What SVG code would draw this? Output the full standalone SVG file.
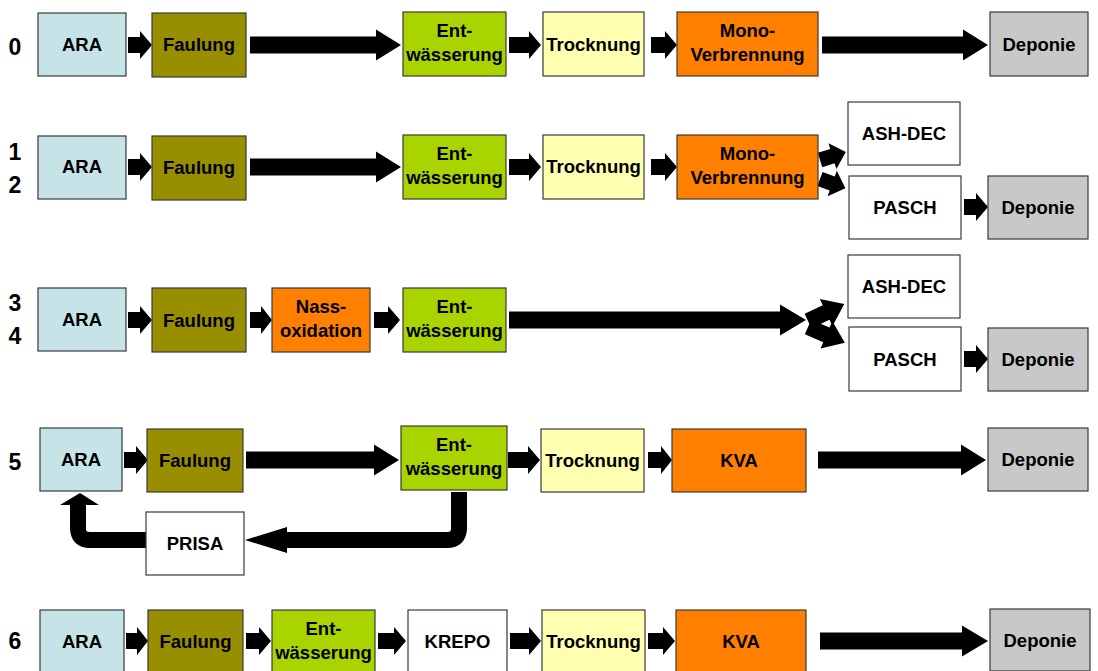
<svg xmlns="http://www.w3.org/2000/svg" width="1098" height="671" viewBox="0 0 1098 671">
<style>
  .box{stroke:#3a3a3a;stroke-width:1.2}
  .ara{fill:#c6e4e8}
  .fau{fill:#978e00}
  .ent{fill:#a9d400}
  .tro{fill:#ffffb0}
  .ora{fill:#ff7f00}
  .dep{fill:#c8c8c8}
  .wht{fill:#ffffff}
  text{font-family:"Liberation Sans",Arial,sans-serif;font-weight:bold;fill:#000}
  .t{font-size:18.5px;text-anchor:middle}
  .lbl{font-size:23px;text-anchor:middle}
  .arr{fill:#000}
  .loop{fill:none;stroke:#000;stroke-width:16;stroke-linejoin:round}
</style>
<rect width="1098" height="671" fill="#ffffff"/>
<!-- Row labels -->
<g id="labels">
  <text class="lbl" x="15" y="55">0</text>
  <text class="lbl" x="15" y="160">1</text>
  <text class="lbl" x="15" y="193">2</text>
  <text class="lbl" x="15" y="311">3</text>
  <text class="lbl" x="15" y="344">4</text>
  <text class="lbl" x="15" y="470">5</text>
  <text class="lbl" x="15" y="649">6</text>
</g>
<!-- Connectors -->
<g id="connectors" class="arr">
  <!-- row 0, cy=45 -->
  <path d="M128,37 H140 V31 L152,45 L140,59 V53 H128 Z"/>
  <path d="M250,36.5 H376 V29.5 L401,45 L376,60.5 V53.5 H250 Z"/>
  <path d="M509,37 H529 V31 L541,45 L529,59 V53 H509 Z"/>
  <path d="M651,37 H665 V31 L677,45 L665,59 V53 H651 Z"/>
  <path d="M822,36.5 H963 V29.5 L988,45 L963,60.5 V53.5 H822 Z"/>
  <!-- row 1/2, cy=167 -->
  <path d="M128,159 H140 V153 L152,167 L140,181 V175 H128 Z"/>
  <path d="M250,158.5 H376 V151.5 L401,167 L376,182.5 V175.5 H250 Z"/>
  <path d="M509,159 H529 V153 L541,167 L529,181 V175 H509 Z"/>
  <path d="M651,159 H665 V153 L677,167 L665,181 V175 H651 Z"/>
  <path transform="translate(820,160) rotate(-17)" d="M0,-7.5 H13 V-13.5 L27,0 L13,13.5 V7.5 H0 Z"/>
  <path transform="translate(820,179) rotate(20)" d="M0,-7.5 H13 V-13.5 L27,0 L13,13.5 V7.5 H0 Z"/>
  <path d="M964,199 H976 V193 L988,207 L976,221 V215 H964 Z"/>
  <!-- row 3/4, cy=320 -->
  <path d="M128,312 H140 V306 L152,320 L140,334 V328 H128 Z"/>
  <path d="M250,312 H261 V306 L272,320 L261,334 V328 H250 Z"/>
  <path d="M374,312 H388 V306 L400,320 L388,334 V328 H374 Z"/>
  <path d="M509,311.5 H780 V304.5 L806,320 L780,335.5 V328.5 H509 Z"/>
  <path transform="translate(808,321) rotate(-25)" d="M0,-8 H20 V-15 L40,0 L20,15 V8 H0 Z"/>
  <path transform="translate(808,327) rotate(23)" d="M0,-8 H20 V-15 L40,0 L20,15 V8 H0 Z"/>
  <path d="M964,351 H976 V345 L988,359 L976,373 V367 H964 Z"/>
  <!-- row 5, cy=460 -->
  <path d="M124,452 H136 V446 L148,460 L136,474 V468 H124 Z"/>
  <path d="M246,451.5 H374 V444.5 L399,460 L374,475.5 V468.5 H246 Z"/>
  <path d="M508,452 H528 V446 L540,460 L528,474 V468 H508 Z"/>
  <path d="M648,452 H661 V446 L672,460 L661,474 V468 H648 Z"/>
  <path d="M818,451.5 H961 V444.5 L986,460 L961,475.5 V468.5 H818 Z"/>
  <!-- loop Entwässerung -> PRISA -> ARA -->
  <path class="loop" d="M459,492 V528 Q459,540 447,540 H286"/>
  <path d="M287,527 L245,540 L287,553 Z"/>
  <path class="loop" d="M146,540 H90 Q78,540 78,528 V504"/>
  <path d="M60,505 L80,493 L99,505 Z"/>
  <!-- row 6, cy=641 -->
  <path d="M126,633 H137 V627 L148,641 L137,655 V649 H126 Z"/>
  <path d="M246,633 H259 V627 L271,641 L259,655 V649 H246 Z"/>
  <path d="M378,633 H394 V627 L406,641 L394,655 V649 H378 Z"/>
  <path d="M510,633 H529 V627 L541,641 L529,655 V649 H510 Z"/>
  <path d="M648,633 H663 V627 L675,641 L663,655 V649 H648 Z"/>
  <path d="M820,632.5 H962 V625.5 L988,641 L962,656.5 V649.5 H820 Z"/>
</g>
<!-- Row 0 -->
<g id="r0-ara"><rect class="box ara" x="38" y="13" width="88" height="63"/><text class="t" x="82" y="51">ARA</text></g>
<g id="r0-faulung"><rect class="box fau" x="152" y="13" width="94" height="64"/><text class="t" x="199" y="51">Faulung</text></g>
<g id="r0-entw"><rect class="box ent" x="403" y="12" width="103" height="64"/><text class="t" x="454.5" y="37">Ent-</text><text class="t" x="454.5" y="61">wässerung</text></g>
<g id="r0-trocknung"><rect class="box tro" x="543" y="12" width="101" height="64"/><text class="t" x="593.5" y="51">Trocknung</text></g>
<g id="r0-mono"><rect class="box ora" x="677" y="12" width="141" height="64"/><text class="t" x="747.5" y="37">Mono-</text><text class="t" x="747.5" y="61">Verbrennung</text></g>
<g id="r0-deponie"><rect class="box dep" x="990" y="12" width="98" height="64"/><text class="t" x="1039" y="51">Deponie</text></g>
<!-- Row 1/2 -->
<g id="r1-ara"><rect class="box ara" x="38" y="136" width="88" height="63"/><text class="t" x="82" y="173">ARA</text></g>
<g id="r1-faulung"><rect class="box fau" x="152" y="136" width="94" height="64"/><text class="t" x="199" y="174">Faulung</text></g>
<g id="r1-entw"><rect class="box ent" x="403" y="135" width="103" height="64"/><text class="t" x="454.5" y="160">Ent-</text><text class="t" x="454.5" y="184">wässerung</text></g>
<g id="r1-trocknung"><rect class="box tro" x="543" y="135" width="101" height="64"/><text class="t" x="593.5" y="173">Trocknung</text></g>
<g id="r1-mono"><rect class="box ora" x="677" y="135" width="141" height="64"/><text class="t" x="747.5" y="160">Mono-</text><text class="t" x="747.5" y="184">Verbrennung</text></g>
<g id="r1-ashdec"><rect class="box wht" x="848" y="102" width="112" height="63"/><text class="t" x="904" y="140">ASH-DEC</text></g>
<g id="r1-pasch"><rect class="box wht" x="849" y="176" width="112" height="63"/><text class="t" x="905" y="214">PASCH</text></g>
<g id="r1-deponie"><rect class="box dep" x="988" y="176" width="100" height="63"/><text class="t" x="1038" y="214">Deponie</text></g>
<!-- Row 3/4 -->
<g id="r3-ara"><rect class="box ara" x="38" y="288" width="88" height="63"/><text class="t" x="82" y="326">ARA</text></g>
<g id="r3-faulung"><rect class="box fau" x="152" y="288" width="94" height="64"/><text class="t" x="199" y="327">Faulung</text></g>
<g id="r3-nass"><rect class="box ora" x="272" y="288" width="98" height="64"/><text class="t" x="321" y="313">Nass-</text><text class="t" x="321" y="337">oxidation</text></g>
<g id="r3-entw"><rect class="box ent" x="403" y="288" width="103" height="64"/><text class="t" x="454.5" y="313">Ent-</text><text class="t" x="454.5" y="337">wässerung</text></g>
<g id="r3-ashdec"><rect class="box wht" x="848" y="255" width="112" height="63"/><text class="t" x="904" y="293">ASH-DEC</text></g>
<g id="r3-pasch"><rect class="box wht" x="849" y="327" width="112" height="64"/><text class="t" x="905" y="366">PASCH</text></g>
<g id="r3-deponie"><rect class="box dep" x="988" y="328" width="100" height="63"/><text class="t" x="1038" y="366">Deponie</text></g>
<!-- Row 5 -->
<g id="r5-ara"><rect class="box ara" x="40" y="428" width="82" height="63"/><text class="t" x="81" y="466">ARA</text></g>
<g id="r5-faulung"><rect class="box fau" x="147" y="429" width="96" height="63"/><text class="t" x="195" y="467">Faulung</text></g>
<g id="r5-entw"><rect class="box ent" x="401" y="426" width="106" height="64"/><text class="t" x="454" y="451">Ent-</text><text class="t" x="454" y="475">wässerung</text></g>
<g id="r5-trocknung"><rect class="box tro" x="541" y="429" width="103" height="63"/><text class="t" x="592.5" y="467">Trocknung</text></g>
<g id="r5-kva"><rect class="box ora" x="672" y="429" width="134" height="63"/><text class="t" x="739" y="467">KVA</text></g>
<g id="r5-deponie"><rect class="box dep" x="988" y="428" width="100" height="63"/><text class="t" x="1038" y="466">Deponie</text></g>
<g id="r5-prisa"><rect class="box wht" x="146" y="512" width="98" height="63"/><text class="t" x="195" y="550">PRISA</text></g>
<!-- Row 6 -->
<g id="r6-ara"><rect class="box ara" x="40" y="610" width="84" height="63"/><text class="t" x="82" y="648">ARA</text></g>
<g id="r6-faulung"><rect class="box fau" x="148" y="610" width="95" height="63"/><text class="t" x="195.5" y="648">Faulung</text></g>
<g id="r6-entw"><rect class="box ent" x="272" y="610" width="103" height="63"/><text class="t" x="323.5" y="635">Ent-</text><text class="t" x="323.5" y="659">wässerung</text></g>
<g id="r6-krepo"><rect class="box wht" x="408" y="610" width="99" height="63"/><text class="t" x="457.5" y="648">KREPO</text></g>
<g id="r6-trocknung"><rect class="box tro" x="542" y="610" width="103" height="63"/><text class="t" x="593.5" y="648">Trocknung</text></g>
<g id="r6-kva"><rect class="box ora" x="676" y="610" width="130" height="63"/><text class="t" x="741" y="648">KVA</text></g>
<g id="r6-deponie"><rect class="box dep" x="990" y="609" width="100" height="62"/><text class="t" x="1040" y="647">Deponie</text></g>
</svg>
